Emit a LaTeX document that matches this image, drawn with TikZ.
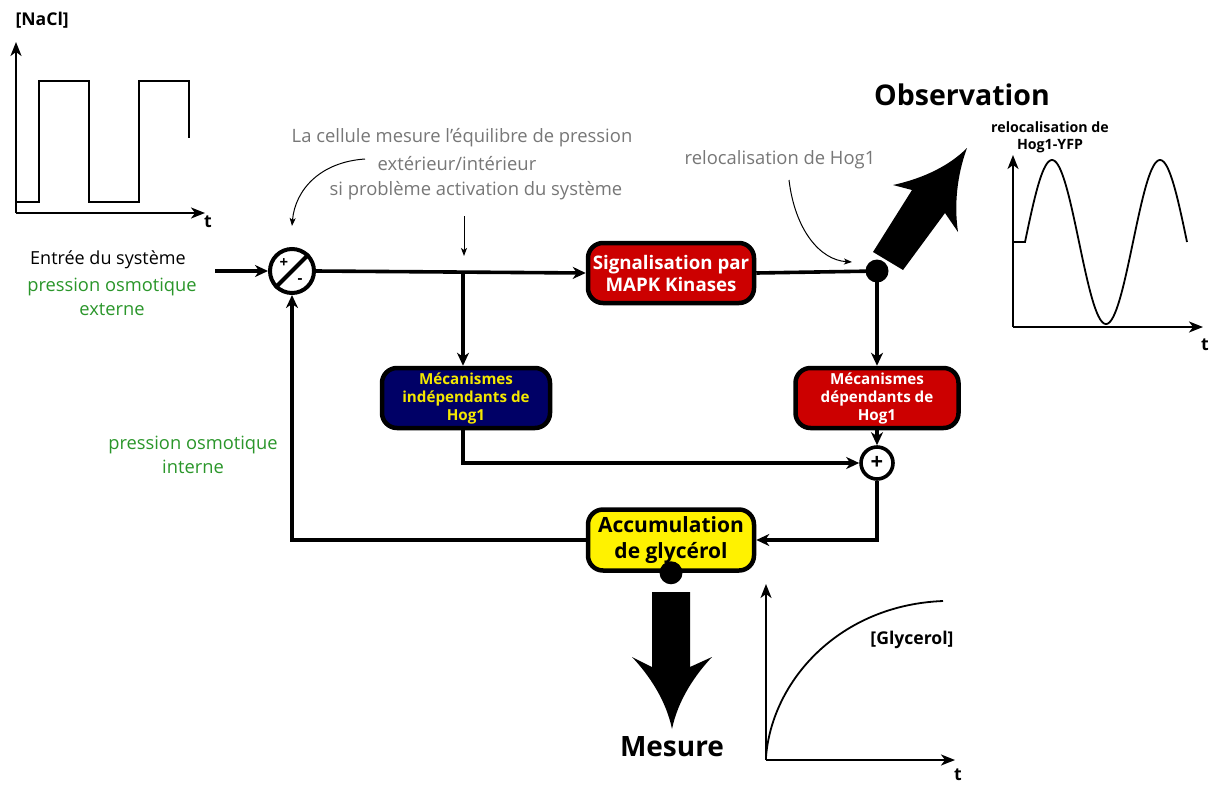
\documentclass[tikz,border=0pt]{standalone}
\usepackage{fontspec}
\setmainfont{Open Sans}
\usetikzlibrary{arrows.meta}
\definecolor{boxred}{HTML}{CC0000}
\definecolor{boxnavy}{HTML}{000066}
\definecolor{boxyellow}{HTML}{FFF200}
\definecolor{txtyellow}{HTML}{F4E800}
\definecolor{txtgreen}{HTML}{2A962A}
\definecolor{txtgray}{HTML}{777777}
\begin{document}
\begin{tikzpicture}[x=1pt,y=-1pt,
  wire/.style={line width=3.6pt},
  arr/.style={-{Stealth[length=13pt,width=12pt,inset=4pt]}},
  thin arr/.style={line width=1pt,-{Stealth[length=8pt,width=6pt,inset=2pt]}},
  axis/.style={line width=2pt,-{Stealth[length=14pt,width=11pt,inset=4pt]}},
  curve/.style={line width=1.8pt},
  procbox/.style={draw=black, line width=4.5pt, rounded corners=15pt,
    align=center, inner sep=2pt, font=\bfseries},
  bigtext/.style={font=\fontsize{18.7}{22}\selectfont\bfseries},
  smalltext/.style={font=\fontsize{15.2}{18}\selectfont\bfseries},
  graytext/.style={text=txtgray, font=\fontsize{18.4}{26}\selectfont, align=center},
  greentext/.style={text=txtgreen, font=\fontsize{18.3}{24}\selectfont, align=center},
  axlabel/.style={font=\fontsize{17.6}{19}\selectfont\bfseries, align=center},
  dot/.style={circle, fill=black, inner sep=0pt, minimum size=23pt}]
\useasboundingbox (0,0) rectangle (1209,785);
\fill[white] (0,0) rectangle (1209,785);

% ---- input signal: [NaCl] square wave ----
\node[axlabel, anchor=west] (naclLab) at (12,20) {[NaCl]};
\coordinate (nO) at (16,213);
\draw[axis] (nO) -- (16,42);
\draw[axis] (nO) -- (205,213);
\node[axlabel] (nT) at (208,222) {t};
\draw[curve] (16,202) -- (39,202) -- (39,81) -- (89,81) -- (89,202)
  -- (139,202) -- (139,81) -- (189,81) -- (189,138);

% ---- input text ----
\node[align=center, font=\fontsize{18}{24}\selectfont] (entree) at (108,260) {Entrée du système};
\node[greentext] (pext) at (112,297) {pression osmotique\\externe};
\node[greentext] (pint) at (193,455) {pression osmotique\\interne};

% ---- comparator ----
\node[draw, circle, line width=4pt, minimum size=44pt, inner sep=0pt] (comp) at (292,271) {};
\draw[line width=4pt] (comp.225) -- (comp.45);
\node[font=\fontsize{15}{15}\selectfont\bfseries, inner sep=0pt] (cplus) at (284,263) {+};
\node[font=\fontsize{15}{15}\selectfont\bfseries, inner sep=0pt] (cminus) at (300,281) {-};

% ---- process boxes ----
\node[procbox, fill=boxred, text=white, bigtext, minimum width=166pt, minimum height=60pt] (sig) at (671,273)
  {Signalisation par\\MAPK Kinases};
\node[procbox, fill=boxnavy, text=txtyellow, smalltext, minimum width=168pt, minimum height=60pt] (indep) at (466,398)
  {Mécanismes\\indépendants de\\Hog1};
\node[procbox, fill=boxred, text=white, smalltext, minimum width=163pt, minimum height=60pt] (dep) at (877,398)
  {Mécanismes\\dépendants de\\Hog1};
\node[procbox, fill=boxyellow, text=black, font=\fontsize{21}{26}\selectfont\bfseries,
  minimum width=166pt, minimum height=61pt, inner sep=0pt] (acc) at (671,540)
  {Accumulation\\de glycérol};

% ---- summing junction and pick-off points ----
\node[draw, circle, line width=3.6pt, minimum size=32pt, inner sep=0pt,
  font=\fontsize{22}{22}\selectfont\bfseries] (plus) at (877,463) {+};
\coordinate (in) at (215,271);
\coordinate (br) at (463,271);
\coordinate (tap) at (877,271);

% ---- connectors ----
\draw[wire, arr] (in) -- (comp.west);
\draw[wire, arr] (comp.east) -- (sig.west);
\draw[wire, arr] (br) -- (indep.north -| br);
\draw[wire] (sig.east) -- (tap);
\draw[wire, arr] (tap) -- (dep.north);
\draw[wire, arr] (dep.south) -- (plus.north);
\draw[wire, arr] (indep.south -| br) |- (plus.west);
\draw[wire, arr] (plus.south) |- (acc.east);
\draw[wire, arr] (acc.west) -| (comp.south);
\node[dot] (tapdot) at (tap) {};
\node[dot] (accdot) at (acc.south) {};

% ---- annotation texts ----
\node[graytext] (note1) at (462,138) {La cellule mesure l’équilibre de pression};
\node[graytext] (note2) at (457,164) {extérieur/intérieur};
\node[graytext] (note3) at (476,191) {si problème activation du système};
\coordinate (n1s) at (365,159);
\coordinate (n1e) at (292,226);
\draw[thin arr] (n1s) .. controls (320,162) and (295,190) .. (n1e);
\coordinate (n2s) at (464,216);
\coordinate (n2e) at (464,256);
\draw[thin arr] (n2s) -- (n2e);
\node[graytext] (reloc) at (780,160) {relocalisation de Hog1};
\coordinate (r1s) at (789,180);
\coordinate (r1e) at (852,262);
\draw[thin arr] (r1s) .. controls (795,230) and (820,260) .. (r1e);

% ---- observation arrow ----
\fill (873,252) -- (912,190) -- (893,185)
  .. controls (925,178) and (950,165) .. (967,148)
  .. controls (957,175) and (954,205) .. (958,232)
  -- (945,213) -- (903,270) -- cycle;
\node[font=\fontsize{28.5}{32}\selectfont\bfseries] (obs) at (962,95) {Observation};

% ---- Hog1-YFP plot ----
\node[axlabel, font=\fontsize{14.2}{17}\selectfont\bfseries] (hogLab) at (1050,137) {relocalisation de\\Hog1-YFP};
\coordinate (hO) at (1013,327);
\draw[axis] (hO) -- (1013,155);
\draw[axis] (hO) -- (1203,327);
\node[axlabel] (hT) at (1205,345) {t};
\draw[curve] (1013,242) -- (1025,242)
  -- plot[domain=0:162, samples=120, smooth] ({1025+\x},{242-82*sin(\x/108*360)});

% ---- measurement arrow ----
\fill (652,592) -- (690,592) -- (690,667) -- (712,657)
  .. controls (695,675) and (678,700) .. (672,729)
  .. controls (666,700) and (649,675) .. (632,657)
  -- (652,667) -- cycle;
\node[font=\fontsize{28}{32}\selectfont\bfseries] (mes) at (672,747) {Mesure};

% ---- glycerol plot ----
\coordinate (gO) at (766,760);
\draw[axis] (gO) -- (766,584);
\draw[axis] (gO) -- (955,760);
\node[axlabel] (gT) at (958,775) {t};
\draw[curve] (766,757) .. controls (772,680) and (840,605) .. (943,601);
\node[axlabel] (glyLab) at (912,640) {[Glycerol]};
\end{tikzpicture}
\end{document}
